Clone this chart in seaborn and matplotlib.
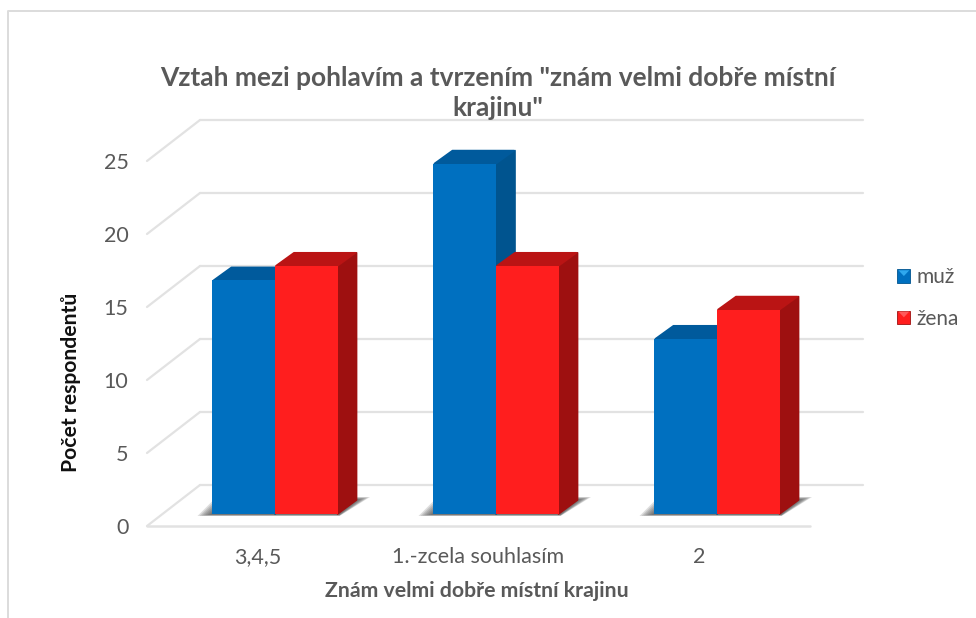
import numpy as np
import pandas as pd
import matplotlib
matplotlib.use("Agg")
import matplotlib.pyplot as plt
import seaborn as sns
from matplotlib.lines import Line2D
from matplotlib.patches import Polygon
from matplotlib.transforms import Affine2D, IdentityTransform

kategorie = ["3,4,5", "1.-zcela souhlasím", "2"]
muz = [16, 24, 12]
zena = [17, 17, 14]
y_ticks = [0, 5, 10, 15, 20, 25]

titulek = 'Vztah mezi pohlavím a tvrzením "znám velmi dobře místní\nkrajinu"'
popis_x = "Znám velmi dobře místní krajinu"
popis_y = "Počet respondentů"

W, H = 976, 618
SEDA = "#595959"
MRIZKA = "#e2e2e2"

# barvy: predni stena, bok, vrsek
BARVY = {"muž": ("#0070c0", "#00548f", "#005a9c"), "žena": ("#ff1e1e", "#9e1010", "#ba1414")}

sns.set_theme(style="white")
plt.rcParams["font.family"] = ["Lato", "Open Sans", "DejaVu Sans"]

df = pd.DataFrame({
    "kategorie": kategorie * 2,
    "pohlavi": ["muž"] * 3 + ["žena"] * 3,
    "pocet": muz + zena,
})

fig = plt.figure(figsize=(W / 100, H / 100), dpi=100, facecolor="white")
ax = fig.add_axes([164.5 / W, (H - 514) / H, 663 / W, 365 / H])
ax.patch.set_alpha(0)

sns.barplot(data=df, x="kategorie", y="pocet", hue="pohlavi", order=kategorie,
            palette={k: v[0] for k, v in BARVY.items()}, width=0.566, saturation=1,
            linewidth=0, errorbar=None, ax=ax, zorder=3)
ax.set_xlim(-0.5, 2.5)
ax.set_ylim(0, 25)
sns.despine(ax=ax, left=True, bottom=True)
ax.set_xlabel("")
ax.set_ylabel("")


def posun(dx, dy):
    return ax.transData + Affine2D().translate(dx, dy)


# mrizka: zadni stena, bocni diagonaly, podlaha
zadni, predni = (35.5, 29), (-17.5, -12)
for v in y_ticks:
    ax.plot([-0.5, 2.5], [v, v], transform=posun(*zadni), color=MRIZKA, lw=1.6, clip_on=False, zorder=0)
    a = posun(*predni).transform((-0.5, v))
    b = posun(*zadni).transform((-0.5, v))
    ax.plot([a[0], b[0]], [a[1], b[1]], transform=IdentityTransform(), color=MRIZKA, lw=1.6,
            clip_on=False, zorder=0)
ax.plot([-0.5, 2.5], [0, 0], transform=posun(*predni), color=MRIZKA, lw=1.8, clip_on=False, zorder=0)

# 3D hloubka sloupcu dopocitana z patchu
DX, DY = 19, 14
pohlavi = list(BARVY)
for i, cont in enumerate(ax.containers):
    _, bok, vrsek = BARVY[pohlavi[i]]
    for bar in cont:
        bar.set_zorder(3)
        (x0, y0) = ax.transData.transform((bar.get_x(), 0))
        (x1, y1) = ax.transData.transform((bar.get_x() + bar.get_width(), bar.get_height()))
        ax.add_patch(Polygon([(x1, y0), (x1 + DX, y0 + DY), (x1 + DX, y1 + DY - 1), (x1, y1 - 1)],
                             transform=IdentityTransform(), fc=bok, ec=bok, lw=1.2,
                             joinstyle="round", clip_on=False, zorder=2 + i * 0.1))
        ax.add_patch(Polygon([(x0 + 1, y1), (x1, y1), (x1 + DX - 1, y1 + DY - 1), (x0 + DX, y1 + DY - 1)],
                             transform=IdentityTransform(), fc=vrsek, ec=vrsek, lw=1.2,
                             joinstyle="round", clip_on=False, zorder=2 + i * 0.1))

# stin pod kazdou skupinou
for j in range(3):
    lev = ax.containers[0][j]
    pra = ax.containers[1][j]
    x0 = ax.transData.transform((lev.get_x(), 0))[0]
    x1 = ax.transData.transform((pra.get_x() + pra.get_width(), 0))[0]
    y0 = ax.transData.transform((0, 0))[1]
    for k in range(7):
        r = 15 - 2 * k
        ax.add_patch(Polygon([(x0 - r, y0 - 2 + k * 0.2), (x1 + 2, y0 - 2 + k * 0.2),
                              (x1 + DX + r * 0.9, y0 + DY + 3 - k * 0.4), (x0 + DX - r, y0 + DY + 3 - k * 0.4)],
                             transform=IdentityTransform(), fc="#444444", ec="none", alpha=0.17,
                             clip_on=False, zorder=1))

# popisky os
ax.set_yticks(y_ticks)
ax.tick_params(axis="y", length=0, pad=26, labelsize=15.5, labelcolor=SEDA)
ax.tick_params(axis="x", length=0, pad=24, labelsize=15.5, labelcolor=SEDA)
for t in ax.get_yticklabels():
    t.set_transform(t.get_transform() + Affine2D().translate(0, -12))
for t in ax.get_xticklabels():
    t.set_transform(t.get_transform() + Affine2D().translate(-17.5, 0))

fig.text(498 / W, (H - 93) / H, titulek, ha="center", va="center", fontsize=19, fontweight="bold",
         color=SEDA, linespacing=1.28)
fig.text(477 / W, (H - 591) / H, popis_x, ha="center", va="center", fontsize=15.3, fontweight="bold", color=SEDA)
fig.text(71 / W, (H - 382) / H, popis_y, ha="center", va="center", rotation=90, fontsize=15.2,
         fontweight="bold", color="#111111")

# legenda
leg = ax.legend(loc="center left", bbox_to_anchor=(887 / W, (H - 298) / H), bbox_transform=fig.transFigure,
                frameon=False, fontsize=15, handlelength=0.62, handleheight=0.62, handletextpad=0.3,
                labelspacing=1.02, borderpad=0, labelcolor=SEDA)
fig.canvas.draw()
svetle = {"muž": "#2fa8ee", "žena": "#ff5a5a"}
for h, nazev in zip(leg.legend_handles, pohlavi):
    h.set_edgecolor(BARVY[nazev][1])
    h.set_linewidth(0.6)
    e = h.get_window_extent()
    fig.add_artist(Polygon([(e.x0 + 1, e.y1 - 1), (e.x1 - 1, e.y1 - 1), ((e.x0 + e.x1) / 2, (e.y0 + e.y1) / 2)],
                           transform=IdentityTransform(), fc=svetle[nazev], ec="none"))

# ramecek grafu
fig.add_artist(Line2D([8 / W, 8 / W, 1], [0, (H - 11) / H, (H - 11) / H], color="#dcdcdc", lw=1.4))

fig.savefig("out.png", dpi=100)
